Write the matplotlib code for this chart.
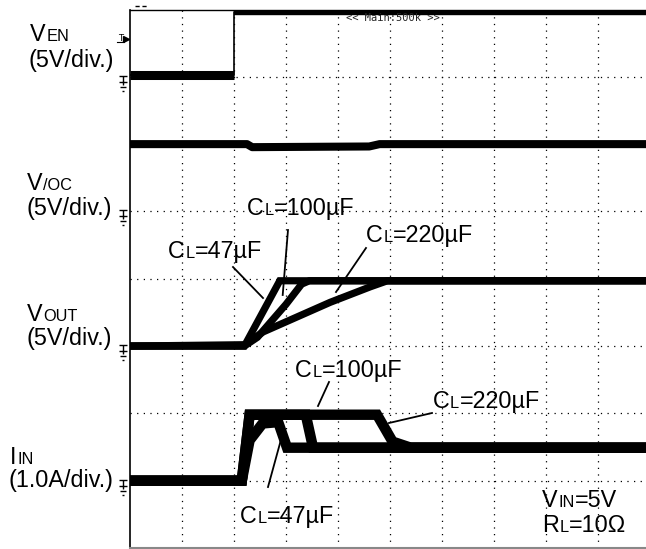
import matplotlib
matplotlib.use("Agg")
import matplotlib.pyplot as plt
from matplotlib.path import Path
from matplotlib.lines import Line2D
from matplotlib.transforms import ScaledTranslation

# ---------------- data (screen divisions: x 0..10, y 0..8) ----------------
# Enable voltage (VEN)
ven_t = [0.0, 2.0, 2.0, 10.0]
ven_v = [7.02, 7.02, 7.96, 7.96]
# Over-current flag (V/OC)
voc_t = [0.0, 2.25, 2.35, 4.6, 4.8, 10.0]
voc_v = [6.0, 6.0, 5.955, 5.965, 6.0, 6.0]
# Output voltage (VOUT) for the three load capacitors
vout47_t = [0.0, 2.2, 2.88, 10.0]
vout47_v = [3.0, 3.0, 3.97, 3.97]
vout100_t = [0.0, 2.2, 2.45, 3.0, 3.3, 3.45, 10.0]
vout100_v = [3.0, 3.0, 3.13, 3.62, 3.92, 3.97, 3.97]
vout220_t = [0.0, 2.21, 2.56, 3.85, 4.62, 4.95, 10.0]
vout220_v = [3.0, 3.02, 3.21, 3.65, 3.88, 3.97, 3.97]
# Input current (IIN)
iin47_t = [0.0, 2.15, 2.3, 2.55, 2.85, 3.02, 10.0]
iin47_v = [1.0, 1.0, 1.6, 1.85, 1.87, 1.49, 1.49]
iin100_t = [0.0, 2.15, 2.3, 3.38, 3.52, 10.0]
iin100_v = [1.0, 1.0, 1.98, 1.98, 1.49, 1.49]
iin220_t = [0.0, 2.15, 2.3, 4.75, 5.05, 5.4, 10.0]
iin220_v = [1.0, 1.0, 1.98, 1.98, 1.58, 1.49, 1.49]
# Channel ground reference levels
gnd_levels = [7.0, 5.0, 3.0, 1.0]

# ---------------- figure ----------------
W, H = 646, 549
fig = plt.figure(figsize=(W / 100, H / 100), dpi=100)
fig.patch.set_facecolor("white")
ax = fig.add_axes([130 / W, 1 - 548 / H, 520 / W, (548 - 9.5) / H])
ax.set_xlim(0, 10)
ax.set_ylim(0, 8)
ax.set_xticks([])
ax.set_yticks([])
ax.spines["right"].set_visible(False)
ax.spines["left"].set_linewidth(1.2)
ax.spines["top"].set_linewidth(1.0)
ax.spines["bottom"].set_color("#888888")
ax.spines["bottom"].set_linewidth(1.5)

dot = (0, (1, 4.3))
for gx in range(1, 10):
    ax.axvline(gx, color="k", lw=0.9, ls=dot, zorder=1)
for gy in range(1, 8):
    ax.axhline(gy, color="k", lw=0.9, ls=dot, zorder=1)

K = "black"
# VEN
ax.plot(ven_t, ven_v, color=K, lw=1.2, zorder=3, solid_capstyle="butt")
ax.plot(ven_t[:2], ven_v[:2], color=K, lw=6.5, zorder=3, solid_capstyle="butt")
ax.plot(ven_t[2:], ven_v[2:], color=K, lw=4.6, zorder=3, solid_capstyle="butt")
# V/OC
ax.plot(voc_t, voc_v, color=K, lw=5.8, zorder=3, solid_capstyle="butt")
# VOUT
for t, v in [(vout47_t, vout47_v), (vout100_t, vout100_v), (vout220_t, vout220_v)]:
    ax.plot(t, v, color=K, lw=5.2, zorder=3, solid_joinstyle="miter", solid_capstyle="butt")
# IIN
for t, v in [(iin220_t, iin220_v), (iin100_t, iin100_v), (iin47_t, iin47_v)]:
    ax.plot(t, v, color=K, lw=7.5, zorder=3, solid_joinstyle="miter", solid_capstyle="butt")

# ground symbols at the left edge
gnd_path = Path(
    [(-0.5, 1.0), (0.5, 1.0), (0.0, 1.0), (0.0, -0.1),
     (-0.5, 0.2), (0.5, 0.2), (-0.33, -0.35), (0.33, -0.35), (-0.15, -0.9), (0.15, -0.9)],
    [Path.MOVETO, Path.LINETO, Path.MOVETO, Path.LINETO,
     Path.MOVETO, Path.LINETO, Path.MOVETO, Path.LINETO, Path.MOVETO, Path.LINETO])
off = ScaledTranslation(-7 / 100, -7 / 100, fig.dpi_scale_trans)
ax.plot([0] * len(gnd_levels), gnd_levels, ls="none", marker=gnd_path, ms=11,
        mew=1.0, mec=K, mfc="none", clip_on=False, transform=ax.transData + off, zorder=4)

# ---------------- text helpers ----------------
renderer = fig.canvas.get_renderer()
FAM = ["Liberation Sans", "DejaVu Sans"]
BIG, SMALL = 16.8, 11.8


def px(x, y):
    return x / W, 1 - y / H


def rich(x, y, parts):
    for s, big in parts:
        t = fig.text(*px(x, y), s, fontsize=BIG if big else SMALL, family=FAM,
                     va="baseline", ha="left", color=K)
        x += t.get_window_extent(renderer).width + 0.6


def leader(x0, y0, x1, y1):
    fig.add_artist(Line2D([x0 / W, x1 / W], [1 - y0 / H, 1 - y1 / H], color=K, lw=1.3))


# channel labels
rich(30, 41, [("V", 1), ("EN", 0)])
rich(28, 66.5, [("(5V/div.)", 1)])
rich(27, 189.5, [("V", 1), ("/OC", 0)])
rich(27, 215, [("(5V/div.)", 1)])
rich(27, 321, [("V", 1), ("OUT", 0)])
rich(27, 345, [("(5V/div.)", 1)])
rich(10, 464, [("I", 1), ("IN", 0)])
rich(8, 487.5, [("(1.0A/div.)", 1)])

# VOUT annotations
rich(247, 215, [("C", 1), ("L", 0), ("=100µF", 1)])
leader(288, 230, 282.7, 295)
rich(168, 258, [("C", 1), ("L", 0), ("=47µF", 1)])
leader(233, 267, 263, 298)
rich(366, 241.7, [("C", 1), ("L", 0), ("=220µF", 1)])
leader(366, 248, 336, 292)

# IIN annotations
rich(295, 377, [("C", 1), ("L", 0), ("=100µF", 1)])
leader(329, 382, 318, 406)
rich(432.7, 408, [("C", 1), ("L", 0), ("=220µF", 1)])
leader(432, 413, 389, 423)
rich(240, 523, [("C", 1), ("L", 0), ("=47µF", 1)])
leader(268, 487, 282, 436)

# conditions
rich(542, 506.7, [("V", 1), ("IN", 0), ("=5V", 1)])
rich(542, 531.7, [("R", 1), ("L", 0), ("=10Ω", 1)])

# scope decorations
fig.text(*px(346, 18), "<< Main:500k >>", family="DejaVu Sans Mono", fontsize=7.5,
         va="center", ha="left", color="#222222")
fig.text(*px(118, 41), "T", family="DejaVu Sans", fontsize=6, va="baseline", ha="left", color=K)
fig.add_artist(Line2D([117 / W, 124 / W], [1 - 42 / H, 1 - 42 / H], color=K, lw=0.8))
fig.add_artist(Line2D([126 / W], [1 - 39 / H], marker=">", ms=4, color=K, ls="none"))
fig.add_artist(Line2D([135 / W, 148 / W], [1 - 6 / H, 1 - 6 / H], color=K, lw=1.0, ls=(0, (3, 2))))

fig.savefig("out.png", dpi=100, facecolor="white")
